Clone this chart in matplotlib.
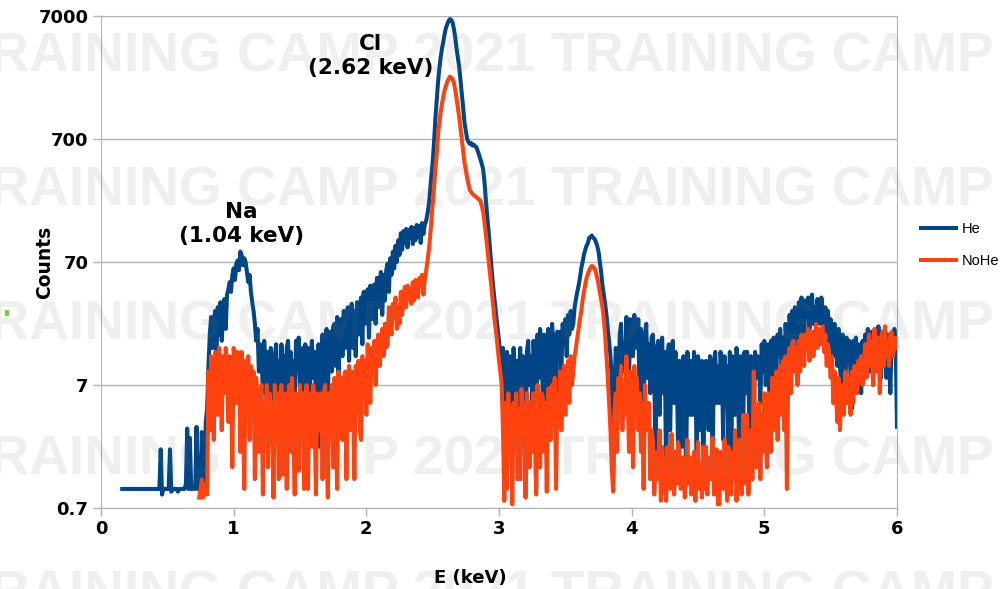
import numpy as np
import matplotlib.pyplot as plt
from matplotlib.patches import Rectangle
from matplotlib.ticker import FixedLocator, NullLocator

# energy axis: channels every 0.01 keV starting at 0.16 keV
e_start = 0.16
e_step = 0.01

# He spectrum (counts), one row = 0.1 keV
he_counts = [
    1.0, 1.0, 1.0, 1.0, 1.0, 1.0, 1.0, 1.0, 1.0, 1.0,             # 0.16
    1.0, 1.0, 1.0, 1.0, 1.0, 1.0, 1.0, 1.0, 1.0, 1.0,             # 0.26
    1.0, 1.0, 1.0, 1.0, 1.0, 1.0, 1.0, 1.0, 1.0, 2.1,             # 0.36
    0.9, 1.0, 1.0, 1.0, 1.0, 1.0, 2.1, 0.95, 1.0, 1.0,            # 0.46
    1.0, 1.0, 0.95, 1.0, 1.0, 1.0, 1.0, 1.0, 1.1, 3.1,            # 0.56
    1.0, 2.6, 1.0, 1.0, 1.05, 1.0, 3.2, 1.0, 1.0, 1.1,            # 0.66
    2.9, 1.0, 1.2, 3.5, 4.5, 10, 18, 25, 14, 22,                  # 0.76
    28, 12, 30, 18, 33, 16, 26, 35, 20, 38,                       # 0.86
    42, 48, 40, 55, 62, 50, 68, 72, 60, 85,                       # 0.96
    80, 66, 75, 70, 58, 48, 55, 40, 33, 28,                       # 1.06
    22, 16, 20, 9, 15, 12, 6, 16, 11, 4,                          # 1.16
    13, 5, 14, 9, 3.5, 12, 15, 6, 11, 4.5,                        # 1.26
    15, 8, 12, 4, 14, 16, 7, 13, 3, 11,                           # 1.36
    5, 16, 10, 17, 6, 12, 14, 4, 15, 9,                           # 1.46
    14, 2.6, 12, 16, 8, 13, 5, 11, 15, 2.2,                       # 1.56
    10, 18, 7, 16, 20, 6, 14, 19, 9, 21,                          # 1.66
    22, 10, 25, 8, 20, 24, 12, 28, 14, 23,                        # 1.76
    30, 11, 26, 32, 14, 28, 12, 33, 18, 29,                       # 1.86
    36, 15, 40, 22, 34, 42, 17, 45, 24, 38,                       # 1.96
    46, 22, 52, 30, 48, 58, 26, 55, 34, 60,                       # 2.06
    68, 40, 75, 55, 85, 62, 95, 70, 105, 80,                      # 2.16
    120, 88, 125, 100, 130, 92, 128, 110, 135, 98,                # 2.26
    132, 105, 140, 112, 138, 100, 145, 118, 140, 150,             # 2.36
    170, 200, 260, 350, 450, 650, 1000, 1400, 2000, 2600,         # 2.46
    3200, 3800, 4300, 5000, 5600, 6000, 6400, 6600, 6500, 6200,   # 2.56
    5500, 4700, 3800, 3200, 2700, 2100, 1600, 1250, 950, 820,     # 2.66
    700, 660, 640, 650, 620, 630, 610, 600, 560, 520,             # 2.76
    480, 440, 400, 320, 230, 170, 130, 95, 70, 52,                # 2.86
    40, 32, 25, 20, 16, 12, 10, 14, 4, 11,                        # 2.96
    13, 3, 12, 8, 2.5, 14, 6, 11, 3, 9,                           # 3.06
    14, 5, 12, 4, 0.95, 13, 16, 7, 12, 5,                         # 3.16
    16, 10, 1.0, 18, 8, 20, 13, 6, 18, 15,                        # 3.26
    3, 20, 12, 7, 22, 16, 9, 4, 19, 14,                           # 3.36
    19, 9, 22, 15, 24, 12, 26, 18, 28, 20,                        # 3.46
    22, 30, 35, 40, 45, 52, 62, 70, 80, 88,                       # 3.56
    95, 100, 110, 112, 115, 110, 108, 102, 95, 85,                # 3.66
    70, 58, 45, 38, 32, 26, 20, 16, 12, 8,                        # 3.76
    1.0, 6, 14, 10, 6, 18, 22, 9, 15, 10,                         # 3.86
    25, 12, 8, 24, 18, 12, 26, 20, 14, 24,                        # 3.96
    5, 20, 14, 3, 18, 22, 8, 15, 6, 17,                           # 4.06
    18, 8, 2, 14, 16, 4, 12, 17, 6, 13,                           # 4.16
    1.0, 12, 15, 3, 10, 16, 5, 13, 9, 2,                          # 4.26
    11, 7, 2.2, 12, 9, 1.2, 13, 10, 4, 11,                        # 4.36
    4, 13, 8, 2, 12, 9, 3, 11, 1.0, 10,                           # 4.46
    11, 6, 3, 12, 9, 1.5, 11, 13, 5, 10,                          # 4.56
    5, 13, 9, 2.5, 12, 8, 10, 2, 13, 1.2,                         # 4.66
    12, 7, 4, 14, 10, 2, 12, 11, 3, 13,                           # 4.76
    6, 13, 9, 1.8, 12, 10, 3, 13, 8, 12,                          # 4.86
    11, 5, 15, 9, 16, 7, 13, 15, 4, 16,                           # 4.96
    3, 17, 12, 8, 18, 14, 20, 9, 17, 6,                           # 5.06
    22, 14, 10, 26, 18, 28, 14, 30, 20, 12,                       # 5.16
    33, 18, 36, 24, 16, 34, 28, 36, 20, 32,                       # 5.26
    38, 22, 30, 20, 35, 26, 22, 36, 28, 18,                       # 5.36
    30, 18, 28, 14, 24, 18, 12, 22, 15, 10,                       # 5.46
    20, 10, 7, 18, 12, 6, 17, 14, 16, 8,                          # 5.56
    4.5, 16, 11, 17, 8, 15, 12, 6, 16, 9,                         # 5.66
    18, 10, 20, 9, 14, 19, 7, 17, 12, 10,                         # 5.76
    21, 12, 8, 19, 14, 20, 8, 18, 11, 6,                          # 5.86
    18, 14, 20, 16, 3.2,                                          # 5.96
]

# NoHe spectrum (counts), no channels below 0.74 keV
nan = float("nan")
nohe_counts = [
    nan, nan, nan, nan, nan, nan, nan, nan, nan, nan,             # 0.16
    nan, nan, nan, nan, nan, nan, nan, nan, nan, nan,             # 0.26
    nan, nan, nan, nan, nan, nan, nan, nan, nan, nan,             # 0.36
    nan, nan, nan, nan, nan, nan, nan, nan, nan, nan,             # 0.46
    nan, nan, nan, nan, nan, nan, nan, nan, nan, nan,             # 0.56
    nan, nan, nan, nan, nan, nan, nan, nan, 0.85, 1.0,            # 0.66
    1.2, 0.85, 1.0, 1.1, 0.9, 9, 3, 12, 6, 2.5,                   # 0.76
    13, 8, 4, 14, 10, 3, 12, 6, 14, 10,                           # 0.86
    3.5, 12, 7, 1.5, 14, 9, 5, 13, 11, 2,                         # 0.96
    13, 6, 1.0, 11, 8, 12, 2.5, 10, 4, 9,                         # 1.06
    1.2, 8, 5, 2, 6, 7, 0.9, 5, 3, 7,                             # 1.16
    1.5, 6, 4, 5, 0.85, 7, 3, 6, 1.2, 5,                          # 1.26
    7, 1.3, 5, 6, 1.0, 4, 7, 2, 8, 3,                             # 1.36
    0.9, 6, 5, 1.4, 7, 3, 6, 1.0, 5, 7,                           # 1.46
    1.0, 5, 6, 2.2, 7, 4, 0.9, 6, 3, 5,                           # 1.56
    6, 1.2, 5, 7, 2, 0.85, 6, 4, 7, 1.5,                          # 1.66
    8, 3, 1.0, 9, 5, 8, 2.5, 7, 9, 1.2,                           # 1.76
    7, 10, 3, 9, 5, 1.2, 10, 7, 11, 3,                            # 1.86
    2.5, 12, 6, 11, 4, 15, 9, 5, 14, 12,                          # 1.96
    16, 7, 13, 18, 10, 15, 20, 12, 22, 14,                        # 2.06
    15, 30, 22, 18, 32, 25, 36, 20, 30, 22,                       # 2.16
    40, 26, 36, 44, 30, 45, 35, 42, 32, 48,                       # 2.26
    34, 50, 40, 36, 52, 45, 55, 38, 50, 58,                       # 2.36
    70, 85, 110, 150, 200, 280, 400, 520, 750, 950,               # 2.46
    1150, 1350, 1550, 1750, 1900, 2050, 2150, 2250, 2200, 2150,   # 2.56
    2000, 1750, 1500, 1250, 1050, 850, 700, 560, 450, 390,        # 2.66
    340, 300, 270, 260, 250, 245, 240, 235, 230, 225,             # 2.76
    220, 200, 180, 150, 120, 95, 75, 60, 47, 36,                  # 2.86
    28, 22, 18, 14, 11, 9, 7, 3, 0.8, 5,                          # 2.96
    1.0, 6, 3, 4.5, 0.75, 5, 2, 6, 1.2, 4.5,                      # 3.06
    1.2, 6.5, 3, 5, 0.85, 6, 4, 1.5, 5, 2,                        # 3.16
    6, 3, 0.9, 7, 4, 1.5, 6, 5, 2, 5,                             # 3.26
    0.95, 6.5, 3, 2.5, 7, 5, 8, 1.0, 6, 4,                        # 3.36
    9, 3, 7, 10, 4, 8, 11, 5, 12, 7,                              # 3.46
    9, 12, 14, 17, 20, 24, 28, 34, 40, 46,                        # 3.56
    52, 56, 60, 63, 65, 64, 62, 58, 52, 46,                       # 3.66
    40, 35, 30, 24, 18, 12, 8, 5, 3, 1.5,                         # 3.76
    0.95, 4, 6, 2, 8, 5, 10, 3, 7, 4,                             # 3.86
    12, 6, 2, 9, 7, 1.5, 10, 5, 8, 3,                             # 3.96
    6, 2, 5, 1.0, 7, 3, 4, 5, 1.2, 3,                             # 4.06
    2.5, 0.9, 1.5, 2, 1.2, 3, 0.8, 2.2, 1.5, 1.0,                 # 4.16
    0.8, 2.2, 1.2, 1.0, 2.8, 1.5, 0.9, 2, 1.1, 2.4,               # 4.26
    2, 1.0, 1.6, 1.8, 0.85, 1.3, 2.5, 1.1, 1.8, 0.9,              # 4.36
    1.1, 2, 0.8, 1.5, 2.4, 1.0, 1.6, 0.85, 2.2, 1.0,              # 4.46
    2.2, 0.9, 1.4, 1.8, 1.2, 2.6, 0.9, 1.5, 2.1, 0.75,            # 4.56
    0.75, 2, 1.1, 1.0, 2.5, 1.3, 0.8, 2.2, 1.0, 0.9,              # 4.66
    2, 1.2, 3, 0.8, 1.6, 2.5, 1.1, 0.9, 4, 1.5,                   # 4.76
    1.1, 4, 0.9, 2.2, 3, 1.2, 9, 4, 1.5, 2.5,                     # 4.86
    5, 1.2, 4, 2, 6, 3, 1.5, 6, 4, 2,                             # 4.96
    8, 3, 6, 9, 2.5, 7, 10, 4, 11, 3,                             # 5.06
    12, 1.0, 8, 14, 6, 11, 16, 9, 14, 7,                          # 5.16
    16, 9, 18, 12, 10, 18, 14, 20, 11, 17,                        # 5.26
    19, 12, 17, 22, 14, 20, 15, 18, 21, 13,                       # 5.36
    18, 10, 15, 12, 8, 12, 5, 9, 6, 3.5,                          # 5.46
    8, 3, 6, 7, 4, 9, 5, 8, 6, 4,                                 # 5.56
    9, 5, 10, 7, 6, 11, 8, 12, 7, 10,                             # 5.66
    15, 8, 12, 18, 10, 16, 7, 20, 13, 9,                          # 5.76
    17, 6, 14, 19, 10, 21, 12, 16, 10, 18,                        # 5.86
    19, 12, 15, 17, 14,                                           # 5.96
]

series_names = ["He", "NoHe"]
y_ticks = [0.7, 7, 70, 700, 7000]
y_tick_labels = ["0.7", "7", "70", "700", "7000"]
x_ticks = [0, 1, 2, 3, 4, 5, 6]
peak_texts = ["Na\n(1.04 keV)", "Cl\n(2.62 keV)"]
watermark = "TRAINING CAMP 2021 TRAINING CAMP"

W, H = 1004, 589
energy = e_start + e_step * np.arange(len(he_counts))

fig = plt.figure(figsize=(W / 100, H / 100), dpi=100)
ax = fig.add_axes([101 / W, 1 - 508 / H, 796 / W, 492 / H])

# spectra
ax.plot(energy, he_counts, color="#004586", lw=2.9, label=series_names[0])
ax.plot(energy, np.array(nohe_counts, dtype=float), color="#ff420e", lw=2.9,
        label=series_names[1])

# axes
ax.set_yscale("log")
ax.set_ylim(0.7, 7000)
ax.set_xlim(0, 6)
ax.yaxis.set_major_locator(FixedLocator(y_ticks))
ax.yaxis.set_minor_locator(NullLocator())
ax.set_yticklabels(y_tick_labels)
ax.set_xticks(x_ticks)
ax.set_xticklabels([str(t) for t in x_ticks])
for lbl in ax.get_xticklabels() + ax.get_yticklabels():
    lbl.set_fontweight("bold")
ax.tick_params(length=6, width=1, color="#b3b3b3", labelsize=13, pad=3)
ax.grid(axis="y", color="#b3b3b3", lw=1)
ax.set_axisbelow(True)
for sp in ax.spines.values():
    sp.set_color("#b3b3b3")

# peak labels
ax.text(1.06, 94, peak_texts[0], ha="center", va="bottom", fontsize=15.5,
        fontweight="bold", linespacing=1.25)
ax.text(2.03, 2200, peak_texts[1], ha="center", va="bottom", fontsize=15.5,
        fontweight="bold", linespacing=1.25)

# axis titles
fig.text(470 / W, 1 - 578 / H, "E (keV)", ha="center", va="center",
         fontsize=13, fontweight="bold", zorder=12)
fig.text(45 / W, 1 - 262 / H, "Counts", ha="center", va="center",
         rotation=90, fontsize=13.5, fontweight="bold", zorder=12)
fig.patches.append(Rectangle((5 / W, 1 - 315 / H), 3 / W, 5 / H,
                             transform=fig.transFigure, color="#83ca3a"))

# legend
ax.legend(loc="center left", bbox_to_anchor=(914 / W, 1 - 245 / H),
          bbox_transform=fig.transFigure, frameon=False,
          prop={"family": "Liberation Sans", "size": 10.5},
          handlelength=2.4, handletextpad=0.35, labelspacing=1.2,
          borderpad=0)

# watermark rows
for yb in [71, 205.5, 340, 474.5, 609]:
    fig.text(-44 / W, 1 - yb / H, watermark, ha="left", va="baseline",
             fontsize=39.6, fontweight="bold", family="Liberation Sans",
             color="0.45", alpha=0.11, zorder=10)

fig.savefig("out.png", dpi=100)
